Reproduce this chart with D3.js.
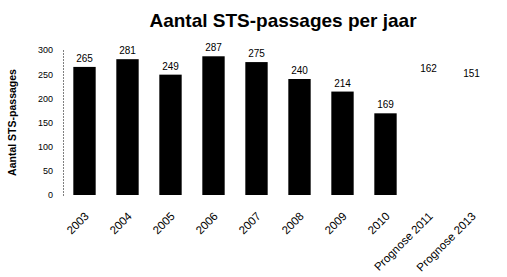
<!DOCTYPE html>
<html lang="nl">
<head>
<meta charset="UTF-8">
<title>Aantal STS-passages per jaar</title>
<script src="https://d3js.org/d3.v7.min.js"></script>
<style>
  body { margin: 0; background: #fff; }
  svg { display: block; font-family: "Liberation Sans", Arial, sans-serif; }
  .title { font-size: 19px; font-weight: bold; }
  .ytitle { font-size: 10.5px; font-weight: bold; }
  .tick text { font-size: 9px; }
  .val { font-size: 10px; }
  .xlab { font-size: 11.5px; }
</style>
</head>
<body>
<svg width="507" height="277"></svg>
<script>
// data
const categories = ["2003", "2004", "2005", "2006", "2007", "2008", "2009", "2010", "Prognose 2011", "Prognose 2013"];
const values = [265, 281, 249, 287, 275, 240, 214, 169, 162, 151];
const isForecast = [false, false, false, false, false, false, false, false, true, true];
const yTicks = [0, 50, 100, 150, 200, 250, 300];

const svg = d3.select("svg");
const W = 507, H = 277;
const m = { top: 50, right: 14, bottom: 82, left: 63 };

const x = d3.scaleBand()
  .domain(categories)
  .range([m.left, W - m.right])
  .paddingInner(0.48)
  .paddingOuter(0.24);

const y = d3.scaleLinear()
  .domain([0, 300])
  .range([H - m.bottom, m.top]);

svg.append("text")
  .attr("class", "title")
  .attr("x", 283).attr("y", 27)
  .attr("text-anchor", "middle")
  .text("Aantal STS-passages per jaar");

// y axis, dotted line
const yAxis = svg.append("g")
  .attr("transform", `translate(${m.left},0)`)
  .call(d3.axisLeft(y).tickValues(yTicks).tickSize(0).tickPadding(10));
yAxis.select(".domain")
  .attr("stroke", "#000")
  .attr("stroke-dasharray", "1,2");
yAxis.selectAll(".tick text").attr("fill", "#000");

svg.append("text")
  .attr("class", "ytitle")
  .attr("transform", `translate(16,${(y(0) + y(300)) / 2}) rotate(-90)`)
  .attr("text-anchor", "middle")
  .text("Aantal STS-passages");

const data = categories.map((c, i) => ({ c, v: values[i], f: isForecast[i] }));

// bars (forecasts drawn without fill)
svg.append("g").selectAll("rect")
  .data(data.filter(d => !d.f))
  .join("rect")
  .attr("x", d => x(d.c))
  .attr("y", d => y(d.v))
  .attr("width", x.bandwidth())
  .attr("height", d => y(0) - y(d.v))
  .attr("fill", "#000");

// value labels; forecast labels float higher as in the original
const forecastLift = 40;
svg.append("g").selectAll("text")
  .data(data)
  .join("text")
  .attr("class", "val")
  .attr("x", d => x(d.c) + x.bandwidth() / 2)
  .attr("y", d => y(d.v) - 5 - (d.f ? forecastLift : 0))
  .attr("text-anchor", "middle")
  .text(d => d.v);

// rotated category labels
svg.append("g").selectAll("text")
  .data(categories)
  .join("text")
  .attr("class", "xlab")
  .attr("text-anchor", "end")
  .attr("transform", d => `translate(${x(d) + x.bandwidth() / 2 + 5},${y(0) + 22}) rotate(-45)`)
  .text(d => d);
</script>
</body>
</html>
